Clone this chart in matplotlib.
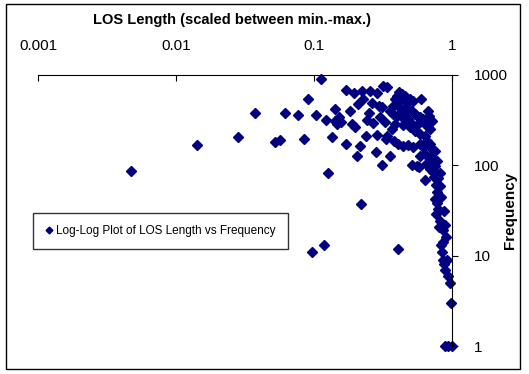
import numpy as np
import matplotlib
matplotlib.use("Agg")
import matplotlib.pyplot as plt
from matplotlib.patches import Rectangle

plt.rcParams['font.family'] = ['Liberation Sans', 'DejaVu Sans']

# LOS length (scaled between min and max) and how often it occurs
los_length = [
    0.0047, 0.0142, 0.028, 0.0376, 0.052, 0.057, 0.062, 0.076, 0.085, 0.091,
    0.103, 0.113, 0.096, 0.119, 0.127, 0.218, 0.405,
    0.123, 0.134, 0.143, 0.141, 0.146, 0.151, 0.158, 0.170, 0.170, 0.181,
    0.187, 0.197, 0.194, 0.204, 0.207, 0.214, 0.222, 0.225, 0.237, 0.241,
    0.249, 0.253, 0.262, 0.266, 0.280, 0.285, 0.285, 0.294, 0.299, 0.310,
    0.310, 0.315, 0.337, 0.326, 0.331, 0.337, 0.354, 0.354, 0.372, 0.372,
    0.379, 0.385, 0.398, 0.398, 0.405, 0.412, 0.419, 0.433, 0.433, 0.440,
    0.440, 0.455, 0.471, 0.479, 0.495, 0.495, 0.512, 0.520, 0.520, 0.512,
    0.538, 0.538, 0.556, 0.556, 0.575, 0.585, 0.585, 0.585, 0.585, 0.595,
    0.615, 0.615, 0.637, 0.637, 0.658, 0.658, 0.681, 0.692, 0.692, 0.692,
    0.716, 0.727, 0.727, 0.752, 0.752, 0.778, 0.727, 0.778, 0.818, 0.791,
    0.765, 0.818, 0.778, 0.804, 0.752, 0.778, 0.791, 0.875, 0.818, 0.846,
    0.889, 0.804, 0.905, 0.860, 0.846, 0.860, 0.920, 0.875, 0.889, 0.935,
    0.967, 0.983, 0.889, 0.935, 1.0,
    0.405, 0.426, 0.455, 0.479, 0.503, 0.385, 0.366, 0.566, 0.637, 0.669,
    0.716, 0.647, 0.692, 0.740, 0.832, 0.765, 0.860, 0.832, 0.405, 0.448,
]
frequency = [
    86, 167, 205, 378, 180, 190, 378, 359, 194, 541,
    359, 903, 11, 13, 82, 37, 12,
    316, 205, 419, 308, 285, 341, 300, 681, 171, 398,
    285, 264, 631, 126, 476, 163, 664, 541, 210, 316,
    378, 664, 489, 293, 139, 631, 215, 453, 341, 441,
    100, 755, 736, 300, 194, 210, 398, 126, 453, 369,
    185, 541, 584, 350, 171, 647, 570, 615, 341, 278,
    163, 584, 441, 167, 541, 264, 398, 514, 158, 100,
    369, 239, 350, 98, 95, 341, 221, 171, 126, 541,
    324, 158, 133, 68, 271, 185, 350, 251, 171, 123,
    151, 117, 108, 143, 98, 111, 84, 79, 82, 72,
    60, 59, 51, 46, 42, 38, 33, 31, 24, 22,
    22, 21, 16, 14, 11, 9, 9, 8, 7, 6,
    5, 3, 1, 1, 1,
    501, 419, 388, 324, 293, 285, 251, 285, 210, 398,
    308, 103, 90, 74, 45, 29, 19, 13, 541, 527,
]

fig = plt.figure(figsize=(5.29, 3.74), dpi=100)
ax = fig.add_axes([38 / 529, 1 - 346 / 374, 414 / 529, 271 / 374])

ax.plot(los_length, frequency, linestyle='none', marker='D', markersize=4.6,
        color='#000080', clip_on=False,
        label='Log-Log Plot of LOS Length vs Frequency')

ax.set_xscale('log')
ax.set_yscale('log')
ax.set_xlim(0.001, 1)
ax.set_ylim(1, 1000)

# axes cross at the top right, like the original spreadsheet chart
ax.spines['left'].set_visible(False)
ax.spines['bottom'].set_visible(False)
ax.xaxis.set_ticks_position('top')
ax.xaxis.set_label_position('top')
ax.yaxis.set_ticks_position('right')
ax.yaxis.set_label_position('right')

ax.set_xticks([0.001, 0.01, 0.1, 1])
ax.set_xticklabels(['0.001', '0.01', '0.1', '1'])
ax.set_yticks([1, 10, 100, 1000])
ax.set_yticklabels(['1', '10', '100', '1000'])
ax.minorticks_off()
ax.tick_params(axis='x', direction='in', length=4, pad=16, labelsize=11)
ax.tick_params(axis='y', direction='out', length=4, pad=11.5, labelsize=11)

ax.set_xlabel('LOS Length (scaled between min.-max.)', fontsize=10.5,
              fontweight='bold')
ax.xaxis.set_label_coords(0.469, 1.187)
ax.set_ylabel('Frequency', fontsize=11, fontweight='bold', rotation=90)
ax.yaxis.set_label_coords(1.124, 0.5)

leg = ax.legend(loc='center left', bbox_to_anchor=(33 / 529, 1 - 231 / 374),
                bbox_transform=fig.transFigure, fontsize=8.5, fancybox=False,
                borderpad=1.05, borderaxespad=0, handlelength=0.6,
                handletextpad=0.3, markerscale=0.75)
leg.get_frame().set_edgecolor('black')
leg.get_frame().set_linewidth(1)

fig.patches.append(Rectangle((6 / 529, 1 - 369 / 374), 514 / 529, 365 / 374,
                             transform=fig.transFigure, fill=False,
                             edgecolor='black', linewidth=1))

fig.savefig('out.png', dpi=100)
